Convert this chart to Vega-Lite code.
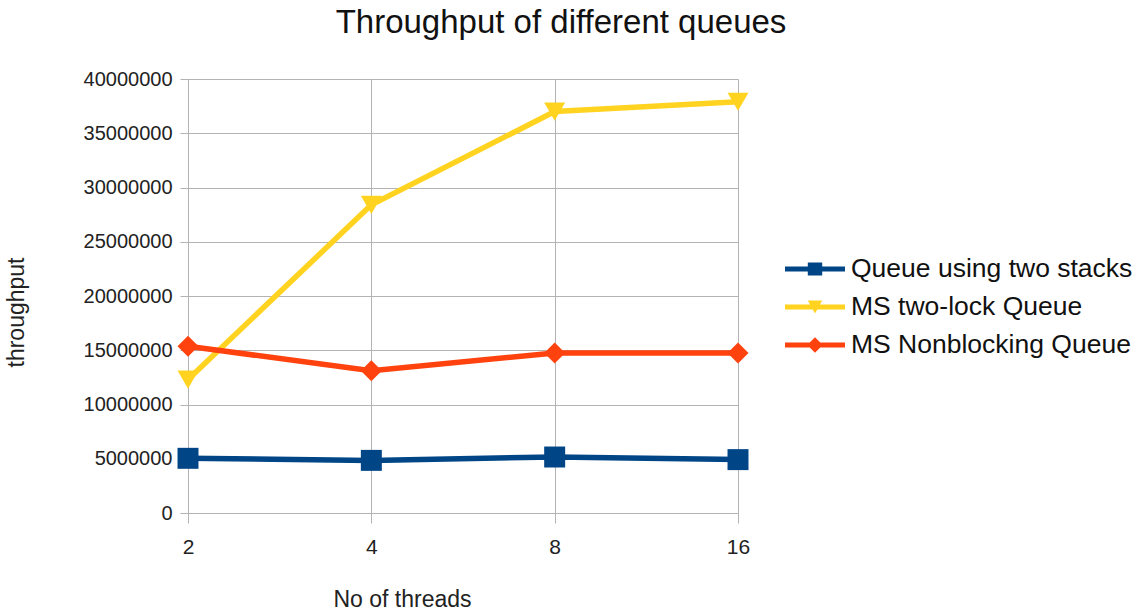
{
  "$schema": "https://vega.github.io/schema/vega-lite/v6.json",
  "autosize": "none",
  "width": 550,
  "height": 434,
  "padding": {"left": 188, "top": 79, "right": 405, "bottom": 100},
  "background": "white",
  "config": {
    "font": "Liberation Sans",
    "view": {"stroke": null},
    "axis": {
      "gridColor": "#b3b3b3",
      "gridWidth": 1,
      "domainColor": "#b3b3b3",
      "tickColor": "#b3b3b3",
      "labelColor": "#222222",
      "titleColor": "#222222",
      "labelFont": "Liberation Sans",
      "titleFont": "Liberation Sans",
      "titleFontWeight": "normal"
    }
  },
  "title": {
    "text": "Throughput of different queues",
    "fontSize": 33,
    "fontWeight": "normal",
    "font": "Liberation Sans",
    "color": "#111111",
    "anchor": "middle",
    "dx": 98,
    "offset": 29
  },
  "data": {
    "values": [
      {"threads": "2", "series": "Queue using two stacks", "throughput": 5040000},
      {"threads": "4", "series": "Queue using two stacks", "throughput": 4850000},
      {"threads": "8", "series": "Queue using two stacks", "throughput": 5160000},
      {"threads": "16", "series": "Queue using two stacks", "throughput": 4920000},
      {"threads": "2", "series": "MS two-lock Queue", "throughput": 12300000},
      {"threads": "4", "series": "MS two-lock Queue", "throughput": 28400000},
      {"threads": "8", "series": "MS two-lock Queue", "throughput": 37000000},
      {"threads": "16", "series": "MS two-lock Queue", "throughput": 37900000},
      {"threads": "2", "series": "MS Nonblocking Queue", "throughput": 15360000},
      {"threads": "4", "series": "MS Nonblocking Queue", "throughput": 13120000},
      {"threads": "8", "series": "MS Nonblocking Queue", "throughput": 14750000},
      {"threads": "16", "series": "MS Nonblocking Queue", "throughput": 14750000}
    ]
  },
  "encoding": {
    "x": {
      "field": "threads",
      "type": "ordinal",
      "sort": ["2", "4", "8", "16"],
      "scale": {"type": "point", "padding": 0},
      "axis": {
        "title": "No of threads",
        "labelAngle": 0,
        "grid": true,
        "tickSize": 10,
        "labelPadding": 13,
        "labelFontSize": 21,
        "titleFontSize": 23,
        "titleX": 214,
        "titleY": 93,
        "titleAlign": "center",
        "titleBaseline": "alphabetic"
      }
    },
    "y": {
      "field": "throughput",
      "type": "quantitative",
      "scale": {"domain": [0, 40000000], "nice": false},
      "axis": {
        "title": "throughput",
        "values": [0, 5000000, 10000000, 15000000, 20000000, 25000000, 30000000, 35000000, 40000000],
        "format": "d",
        "grid": true,
        "tickSize": 8,
        "labelPadding": 8,
        "labelFontSize": 20,
        "titleFontSize": 23,
        "titleX": -165,
        "titleY": 233,
        "titleAlign": "center",
        "titleBaseline": "alphabetic",
        "titleAngle": -90
      }
    },
    "color": {
      "field": "series",
      "type": "nominal",
      "sort": ["Queue using two stacks", "MS two-lock Queue", "MS Nonblocking Queue"],
      "scale": {
        "domain": ["Queue using two stacks", "MS two-lock Queue", "MS Nonblocking Queue"],
        "range": ["#004586", "#ffd320", "#ff420e"]
      },
      "legend": {
        "title": null,
        "orient": "none",
        "legendX": 597,
        "legendY": 175,
        "labelFontSize": 26.5,
        "labelFont": "Liberation Sans",
        "labelColor": "#111111",
        "labelLimit": 500,
        "symbolSize": 900,
        "labelOffset": 36,
        "rowPadding": 9,
        "encode": {
          "symbols": {
            "update": {
              "shape": {"signal": "datum.value === 'Queue using two stacks' ? 'M-1,-0.16H3V0.16H-1Z M0.52,-0.44H1.48V0.44H0.52Z' : (datum.value === 'MS two-lock Queue' ? 'M-1,-0.16H3V0.16H-1Z M0.52,-0.44L1.48,-0.44L1,0.44Z' : 'M-1,-0.16H3V0.16H-1Z M1,-0.52L1.52,0L1,0.52L0.48,0Z')"},
              "fill": {"scale": "color", "field": "value"},
              "stroke": {"value": "transparent"},
              "strokeWidth": {"value": 0},
              "opacity": {"value": 1}
            }
          }
        }
      }
    }
  },
  "layer": [
    {
      "mark": {"type": "line", "strokeWidth": 5.5}
    },
    {
      "transform": [{"filter": "datum.series === 'Queue using two stacks'"}],
      "mark": {"type": "point", "filled": true, "opacity": 1, "size": 440, "shape": "square"}
    },
    {
      "transform": [{"filter": "datum.series === 'MS two-lock Queue'"}],
      "mark": {"type": "point", "filled": true, "opacity": 1, "size": 440, "shape": "triangle-down"}
    },
    {
      "transform": [{"filter": "datum.series === 'MS Nonblocking Queue'"}],
      "mark": {"type": "point", "filled": true, "opacity": 1, "size": 440, "shape": "diamond"}
    }
  ]
}
